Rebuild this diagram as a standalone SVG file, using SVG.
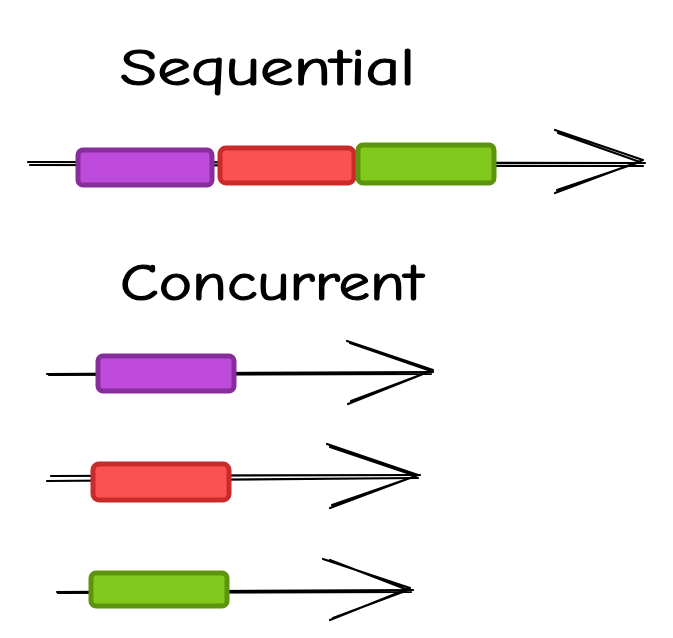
<svg xmlns="http://www.w3.org/2000/svg" width="673" height="638" viewBox="0 0 673 638">
<style>
.t{font-family:"Comic Neue","Liberation Sans","DejaVu Sans",sans-serif;font-size:52px;fill:#000;stroke:#000;stroke-width:1.2}
.ln{fill:none;stroke:#000;stroke-width:2.2;stroke-linecap:round;stroke-linejoin:round}
.p{fill:#be4bdb;stroke:#862e9c;stroke-width:5}
.r{fill:#fa5252;stroke:#c92a2a;stroke-width:5}
.g{fill:#82c91e;stroke:#5c940d;stroke-width:5}
</style>
<rect width="673" height="638" fill="#fff"/>
<text class="t" x="120" y="85" textLength="295" lengthAdjust="spacingAndGlyphs">Sequential</text>
<text class="t" x="120" y="300" textLength="303" lengthAdjust="spacingAndGlyphs">Concurrent</text>
<g id="connectors">
<path class="ln" d="M28 162 L645 163 M30 165 L643 166"/>
<path class="ln" d="M555 130 L643 160 L555 193 M558 133 L640 162 L557 190"/>
<path class="ln" d="M47 374 L433 372 M49 375 L431 374"/>
<path class="ln" d="M347 341 L433 370 L348 404 M350 343 L431 371 L351 401"/>
<path class="ln" d="M51 476 L420 475 M47 481 L418 478"/>
<path class="ln" d="M327 444 L418 475 L330 508 M330 447 L416 476 L332 505"/>
<path class="ln" d="M57 592 L413 590 M58 593 L411 592"/>
<path class="ln" d="M323 559 L410 588 L330 620 M330 560 L408 590 L333 618"/>
</g>
<g id="seq-purple"><rect class="p" x="78" y="150" width="134" height="35" rx="5"/></g>
<g id="seq-red"><rect class="r" x="220" y="148" width="134" height="35" rx="6"/></g>
<g id="seq-green"><rect class="g" x="358" y="145" width="136" height="38" rx="5"/></g>
<g id="con-purple"><rect class="p" x="98" y="356" width="136" height="35" rx="5"/></g>
<g id="con-red"><rect class="r" x="93" y="464" width="136" height="36" rx="6"/></g>
<g id="con-green"><rect class="g" x="91" y="573" width="136" height="33" rx="5"/></g>
</svg>
